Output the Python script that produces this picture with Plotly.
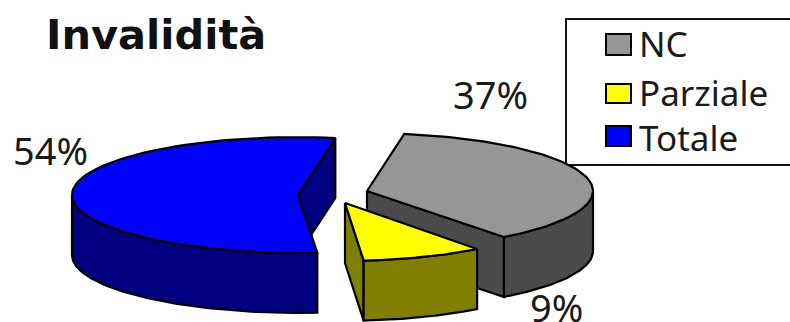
import numpy as np
import plotly.graph_objects as go

# Chart data
categories = ["NC", "Parziale", "Totale"]
percent = [37, 9, 54]
title_text = "Invalidità"

# Slice colours: top face and shaded side
top_colors = ["#969696", "#ffff00", "#0000ff"]
side_colors = ["#4b4b4b", "#808000", "#000080"]

# Projected pie geometry, in page pixels
RY, DEPTH = 57.8, 60
radii_x = [226, 218, 226]
START_DEG = 80.5
centers = [(367, 191), (345, 203), (298, 195)]
label_pos = [(490, 94), (556, 307), (50, 150)]
legend_rows = [(43, 34, 55), (92, 84, 103), (137, 126, 146)]

FONT = "Noto Sans"
fig = go.Figure()


def add_poly(xs, ys, color):
    fig.add_trace(go.Scatter(
        x=list(xs), y=list(ys), mode="lines", fill="toself", fillcolor=color,
        line=dict(color="#000000", width=2.2), hoverinfo="skip", showlegend=False,
    ))


def rim(cx, cy, rx, a0, a1, drop=0.0):
    t = np.radians(np.linspace(a0, a1, 80))
    return cx + rx * np.cos(t), cy - RY * np.sin(t) + drop


# Slices run clockwise from the start angle
spans = []
angle = START_DEG
for p in percent:
    spans.append((angle, angle - p * 3.6))
    angle -= p * 3.6

# Back slice first so the nearer ones sit on top
for i in [2, 0, 1]:
    cx, cy = centers[i]
    rx = radii_x[i]
    a0, a1 = spans[i]

    # Cut face at the trailing edge, which turns toward the viewer
    ex, ey = rim(cx, cy, rx, a1, a1)
    add_poly([cx, ex[0], ex[0], cx, cx],
             [cy, ey[0], ey[0] + DEPTH, cy + DEPTH, cy], side_colors[i])

    # Outer wall: only the part of the rim on the front half
    hi, lo = min(a0, 0), max(a1, -180)
    wx, wy = rim(cx, cy, rx, hi, lo)
    bx, by = rim(cx, cy, rx, lo, hi, DEPTH)
    add_poly(np.r_[wx, bx, wx[0]], np.r_[wy, by, wy[0]], side_colors[i])

    # Top face
    tx, ty = rim(cx, cy, rx, a0, a1)
    add_poly(np.r_[cx, tx, cx], np.r_[cy, ty, cy], top_colors[i])

shapes = [dict(type="rect", xref="x", yref="y", x0=566, x1=792, y0=19, y1=165,
               line=dict(color="#111111", width=2), fillcolor="#ffffff", layer="below")]
annotations = [dict(x=44, y=34, text=f"<b>{title_text}</b>", xanchor="left", yanchor="middle",
                    showarrow=False, font=dict(family="DejaVu Sans", size=41.5, color="#111111"))]

for name, p, (lx, ly) in zip(categories, percent, label_pos):
    annotations.append(dict(x=lx, y=ly, text=f"{p}%", showarrow=False,
                            xanchor="center", yanchor="middle",
                            font=dict(family=FONT, size=38, color="#1a1a1a")))

for name, color, (ty, y0, y1) in zip(categories, top_colors, legend_rows):
    shapes.append(dict(type="rect", xref="x", yref="y", x0=606, x1=631, y0=y0, y1=y1,
                       line=dict(color="#000000", width=2), fillcolor=color))
    annotations.append(dict(x=637, y=ty, text=name, showarrow=False,
                            xanchor="left", yanchor="middle",
                            font=dict(family=FONT, size=35, color="#1a1a1a")))

fig.update_layout(
    width=790, height=322, margin=dict(l=0, r=0, t=0, b=0),
    paper_bgcolor="#ffffff", plot_bgcolor="#ffffff", showlegend=False,
    xaxis=dict(range=[0, 790], visible=False, fixedrange=True),
    yaxis=dict(range=[322, 0], visible=False, fixedrange=True),
    shapes=shapes, annotations=annotations,
)
fig.write_html("out.html", config=dict(displayModeBar=False))
